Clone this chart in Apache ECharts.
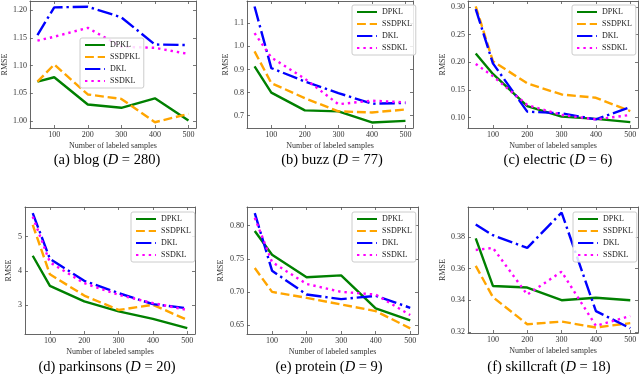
<!DOCTYPE html>
<html><head><meta charset="utf-8">
<script src="https://cdn.jsdelivr.net/npm/echarts@6/dist/echarts.min.js"></script>
<style>html,body{margin:0;padding:0;background:#fff}#c{width:640px;height:374px}</style>
</head><body><div id="c"></div>
<script>
// ---------- data ----------
const samples = [50, 100, 200, 300, 400, 500];
const seriesNames = ['DPKL', 'SSDPKL', 'DKL', 'SSDKL'];
const xTickValues = [100, 200, 300, 400, 500];
const xTitle = 'Number of labeled samples';
const yTitle = 'RMSE';

const blogDPKL   = [1.071, 1.079, 1.030, 1.024, 1.041, 1.001];
const blogSSDPKL = [1.071, 1.102, 1.048, 1.040, 0.998, 1.013];
const blogDKL    = [1.155, 1.205, 1.206, 1.187, 1.138, 1.137];
const blogSSDKL  = [1.145, 1.152, 1.168, 1.134, 1.132, 1.121];
const blogTicks  = [1.00, 1.05, 1.10, 1.15, 1.20];

const buzzDPKL   = [0.913, 0.800, 0.723, 0.719, 0.671, 0.678];
const buzzSSDPKL = [0.978, 0.841, 0.776, 0.719, 0.714, 0.727];
const buzzDKL    = [1.172, 0.906, 0.848, 0.798, 0.752, 0.755];
const buzzSSDKL  = [1.057, 0.952, 0.860, 0.750, 0.765, 0.758];
const buzzTicks  = [0.7, 0.8, 0.9, 1.0, 1.1];

const electricDPKL   = [0.216, 0.179, 0.121, 0.102, 0.098, 0.092];
const electricSSDPKL = [0.301, 0.202, 0.162, 0.142, 0.136, 0.112];
const electricDKL    = [0.296, 0.198, 0.111, 0.108, 0.097, 0.119];
const electricSSDKL  = [0.197, 0.175, 0.123, 0.105, 0.097, 0.105];
const electricTicks  = [0.10, 0.15, 0.20, 0.25, 0.30];

const parkinsonsDPKL   = [4.44, 3.56, 3.11, 2.82, 2.60, 2.33];
const parkinsonsSSDPKL = [5.34, 3.90, 3.28, 2.86, 3.01, 2.57];
const parkinsonsDKL    = [5.68, 4.35, 3.71, 3.35, 3.03, 2.91];
const parkinsonsSSDKL  = [5.58, 4.25, 3.64, 3.30, 3.06, 2.86];
const parkinsonsTicks  = [3, 4, 5];

const proteinDPKL   = [0.792, 0.756, 0.722, 0.725, 0.675, 0.657];
const proteinSSDPKL = [0.736, 0.700, 0.691, 0.681, 0.671, 0.645];
const proteinDKL    = [0.819, 0.732, 0.696, 0.689, 0.694, 0.676];
const proteinSSDKL  = [0.812, 0.745, 0.712, 0.700, 0.696, 0.665];
const proteinTicks  = [0.65, 0.70, 0.75, 0.80];

const skillcraftDPKL   = [0.379, 0.349, 0.348, 0.340, 0.3415, 0.340];
const skillcraftSSDPKL = [0.3617, 0.3419, 0.3248, 0.3265, 0.3228, 0.3255];
const skillcraftDKL    = [0.3877, 0.381, 0.373, 0.3953, 0.3331, 0.3223];
const skillcraftSSDKL  = [0.3717, 0.373, 0.3435, 0.358, 0.3238, 0.330];
const skillcraftTicks  = [0.32, 0.34, 0.36, 0.38];

const captions = ['(a) blog ({i|D} = 280)', '(b) buzz ({i|D} = 77)', '(c) electric ({i|D} = 6)',
                  '(d) parkinsons ({i|D} = 20)', '(e) protein ({i|D} = 9)', '(f) skillcraft ({i|D} = 18)'];

// ---------- layout / style ----------
const FONT = 'Liberation Serif';
const colors = ['#008000', '#FFA500', '#0000FF', '#FF00FF'];
const LW = 2.4;
const dashes = ['solid', [3.7 * LW, 1.6 * LW], [6.4 * LW, 1.6 * LW, 1 * LW, 1.6 * LW], [1 * LW, 1.65 * LW]];

const panels = [
  {vals: [blogDPKL, blogSSDPKL, blogDKL, blogSSDKL], ticks: blogTicks, dec: 2,
   ymin: 0.9876, ymax: 1.2164, g: [26, 1, 196, 128], leg: [80, 38], ygap: 20, cap: [107, 160]},
  {vals: [buzzDPKL, buzzSSDPKL, buzzDKL, buzzSSDKL], ticks: buzzTicks, dec: 1,
   ymin: 0.647, ymax: 1.196, g: [247, 1, 413, 128], leg: [352, 5], ygap: 15, cap: [332, 160]},
  {vals: [electricDPKL, electricSSDPKL, electricDKL, electricSSDKL], ticks: electricTicks, dec: 2,
   ymin: 0.0815, ymax: 0.3105, g: [468, 1, 638, 128], leg: [572, 5], ygap: 21, cap: [558, 160]},
  {vals: [parkinsonsDPKL, parkinsonsSSDPKL, parkinsonsDKL, parkinsonsSSDKL], ticks: parkinsonsTicks, dec: 0,
   ymin: 2.16, ymax: 5.86, g: [25, 207, 195, 334], leg: [131, 212], ygap: 12, cap: [107, 367]},
  {vals: [proteinDPKL, proteinSSDPKL, proteinDKL, proteinSSDKL], ticks: proteinTicks, dec: 2,
   ymin: 0.6364, ymax: 0.8282, g: [247, 207, 418, 334], leg: [352, 212], ygap: 22, cap: [329, 367]},
  {vals: [skillcraftDPKL, skillcraftSSDPKL, skillcraftDKL, skillcraftSSDKL], ticks: skillcraftTicks, dec: 2,
   ymin: 0.3193, ymax: 0.3988, g: [468, 207, 638, 333], leg: [573, 212], ygap: 21, cap: [549, 367]}
];

const AX = '#555';
const grid = [], xAxis = [], yAxis = [], series = [], legend = [], graphic = [];

panels.forEach((p, k) => {
  const [l, t, r, b] = p.g;
  grid.push({left: l, top: t, width: r - l, height: b - t, containLabel: false});
  const tick = (vals) => ({show: true, inside: true, length: 3, customValues: vals, lineStyle: {color: AX, width: 0.8}});
  const line = {show: true, lineStyle: {color: AX, width: 0.9}};
  xAxis.push({gridIndex: k, type: 'value', position: 'bottom', min: 27.5, max: 522.5,
    axisLine: line, axisTick: tick(xTickValues), splitLine: {show: false},
    axisLabel: {customValues: xTickValues, fontFamily: FONT, fontSize: 8, color: '#333', margin: 3},
    name: xTitle, nameLocation: 'middle', nameGap: 14,
    nameTextStyle: {fontFamily: FONT, fontSize: 8, color: '#333'}});
  xAxis.push({gridIndex: k, type: 'value', position: 'top', min: 27.5, max: 522.5,
    axisLine: line, axisTick: tick(xTickValues), splitLine: {show: false}, axisLabel: {show: false}});
  yAxis.push({gridIndex: k, type: 'value', position: 'left', min: p.ymin, max: p.ymax,
    axisLine: line, axisTick: tick(p.ticks), splitLine: {show: false},
    axisLabel: {customValues: p.ticks, formatter: v => v.toFixed(p.dec), fontFamily: FONT, fontSize: 8, color: '#333', margin: 3},
    name: yTitle, nameLocation: 'middle', nameGap: p.ygap,
    nameTextStyle: {fontFamily: FONT, fontSize: 8, color: '#333'}});
  yAxis.push({gridIndex: k, type: 'value', position: 'right', min: p.ymin, max: p.ymax,
    axisLine: line, axisTick: tick(p.ticks), splitLine: {show: false}, axisLabel: {show: false}});
  seriesNames.forEach((name, s) => {
    series.push({name, type: 'line', xAxisIndex: 2 * k, yAxisIndex: 2 * k,
      data: samples.map((x, i) => [x, p.vals[s][i]]),
      symbol: 'none', showSymbol: false, silent: true, animation: false,
      lineStyle: {color: colors[s], width: LW, type: dashes[s], cap: 'butt'},
      itemStyle: {color: colors[s]}});
  });
  legend.push({data: seriesNames, orient: 'vertical', left: p.leg[0], top: p.leg[1],
    itemWidth: 20, itemHeight: 8, itemGap: 4, padding: [3, 4, 3, 4], selectedMode: false,
    itemStyle: {opacity: 0},
    textStyle: {fontFamily: FONT, fontSize: 8, color: '#222'},
    borderColor: '#ccc', borderWidth: 1, borderRadius: 2, backgroundColor: 'rgba(255,255,255,0.85)'});
  graphic.push({type: 'text', x: p.cap[0], y: p.cap[1], silent: true,
    style: {text: captions[k], fontFamily: FONT, fontSize: 14.5, fill: '#000', align: 'center', verticalAlign: 'middle',
      rich: {i: {fontStyle: 'italic', fontFamily: FONT, fontSize: 14.5, fill: '#000'}}}});
});

const chart = echarts.init(document.getElementById('c'), null, {renderer: 'canvas'});
chart.setOption({animation: false, backgroundColor: '#fff', grid, xAxis, yAxis, series, legend, graphic});
</script>
</body></html>
